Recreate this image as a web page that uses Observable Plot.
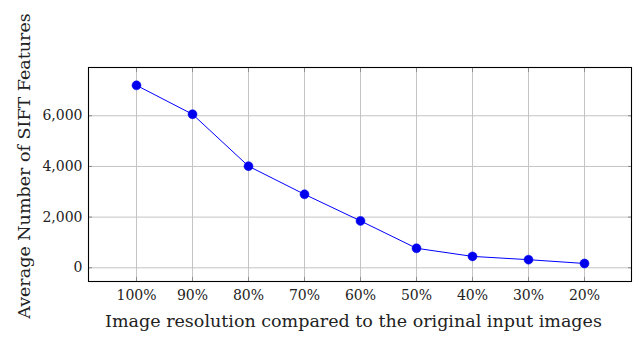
<!DOCTYPE html>
<html>
<head>
<meta charset="utf-8">
<script src="https://cdn.jsdelivr.net/npm/d3@7"></script>
<script src="https://cdn.jsdelivr.net/npm/@observablehq/plot@0.6"></script>
<style>
  html, body { margin: 0; padding: 0; background: #fff; }
  #chart svg { display: block; }
  #chart svg, #chart svg text { font-family: "DejaVu Serif", serif !important; }
</style>
</head>
<body>
<div id="chart"></div>
<script>
const resolutions = ["100%", "90%", "80%", "70%", "60%", "50%", "40%", "30%", "20%"];
const avgFeatures = [7200, 6060, 4010, 2900, 1850, 770, 450, 320, 170];
const yTicks = [0, 2000, 4000, 6000];
const xLabel = "Image resolution compared to the original input images";
const yLabel = "Average Number of SIFT Features";

const data = resolutions.map((r, i) => ({res: r, value: avgFeatures[i]}));
const fmt = d3.format(",");
const font = "DejaVu Serif, serif";

const chart = Plot.plot({
  width: 633,
  height: 337,
  marginLeft: 88,
  marginRight: 2,
  marginTop: 67,
  marginBottom: 56,
  style: {fontFamily: font, fontSize: "14px", color: "#222", background: "#fff"},
  x: {type: "point", domain: resolutions, padding: 0.79, label: null},
  y: {domain: [-541, 7905], label: null},
  marks: [
    Plot.gridX(resolutions, {stroke: "#c4c4c4", strokeOpacity: 1, strokeWidth: 1}),
    Plot.gridY(yTicks, {stroke: "#c4c4c4", strokeOpacity: 1, strokeWidth: 1}),
    Plot.axisX(resolutions, {anchor: "bottom", tickSize: -4, text: null, stroke: "#8c8c8c", label: null}),
    Plot.axisX(resolutions, {anchor: "top", tickSize: -4, text: null, stroke: "#8c8c8c", label: null}),
    Plot.axisY(yTicks, {anchor: "left", tickSize: -4, text: null, stroke: "#8c8c8c", label: null}),
    Plot.axisY(yTicks, {anchor: "right", tickSize: -4, text: null, stroke: "#8c8c8c", label: null}),
    Plot.axisX(resolutions, {anchor: "bottom", tickSize: 0, tickPadding: 9, label: null, fontSize: 14, fill: "#222"}),
    Plot.axisY(yTicks, {anchor: "left", tickSize: 0, tickPadding: 6, tickFormat: fmt, label: null, fontSize: 14, fill: "#222"}),
    Plot.frame({stroke: "#000", strokeWidth: 1.1}),
    Plot.line(data, {x: "res", y: "value", stroke: "#0000ff", strokeWidth: 1}),
    Plot.dot(data, {x: "res", y: "value", r: 4.5, fill: "#0000ee", stroke: "#0000ee", strokeWidth: 0.5})
  ]
});

const svg = d3.select(chart);
svg.append("text")
  .attr("x", 353.5).attr("y", 327)
  .attr("text-anchor", "middle")
  .attr("font-size", 17.5).attr("fill", "#222")
  .text(xLabel);
svg.append("text")
  .attr("transform", "translate(30,166) rotate(-90)")
  .attr("text-anchor", "middle")
  .attr("font-size", 17.5).attr("fill", "#222")
  .text(yLabel);

document.getElementById("chart").appendChild(chart);
</script>
</body>
</html>
